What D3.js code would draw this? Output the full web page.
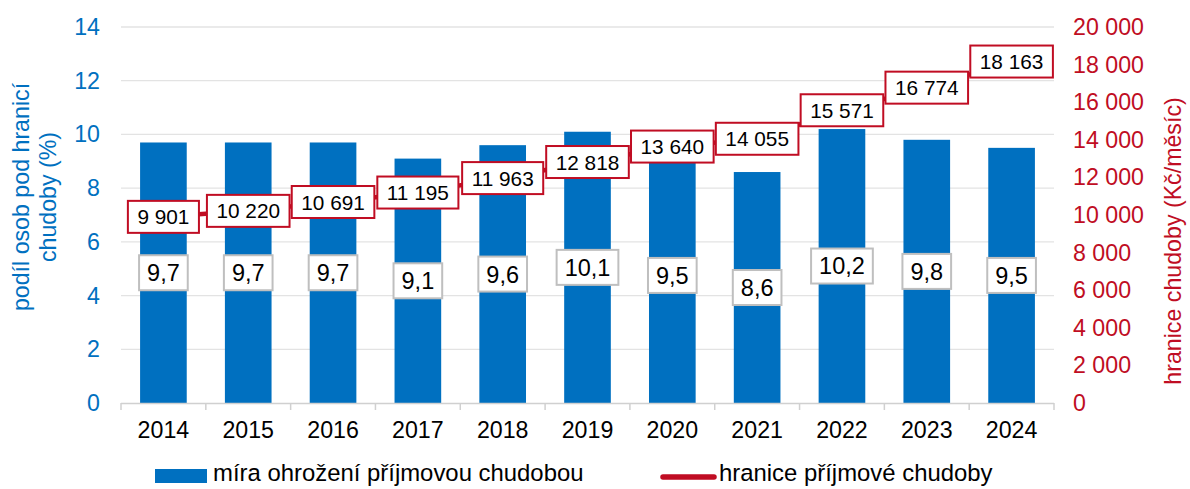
<!DOCTYPE html>
<html>
<head>
<meta charset="utf-8">
<script src="https://cdn.jsdelivr.net/npm/d3@7"></script>
<style>
body{margin:0;background:#fff;}
text{font-family:"Liberation Sans",Arial,sans-serif;}
</style>
</head>
<body>
<div id="chart"></div>
<script>
var years=["2014","2015","2016","2017","2018","2019","2020","2021","2022","2023","2024"];
var rate=[9.7,9.7,9.7,9.1,9.6,10.1,9.5,8.6,10.2,9.8,9.5];
var threshold=[9901,10220,10691,11195,11963,12818,13640,14055,15571,16774,18163];
var leftTicks=[0,2,4,6,8,10,12,14];
var rightTicks=[0,2000,4000,6000,8000,10000,12000,14000,16000,18000,20000];

var width=1190, height=489;
var blue="#0070c0", red="#c00d23";
var axisFont=23.2;

var svg=d3.select("#chart").append("svg")
  .attr("width",width).attr("height",height);

var x=d3.scaleBand().domain(years).range([121,1054]).paddingInner(0.45).paddingOuter(0.225);
var y=d3.scaleLinear().domain([0,14]).range([403,27]);
var y2=d3.scaleLinear().domain([0,20000]).range([403,27]);

function fmt(v){ return d3.format(",")(v).replace(/,/g," "); }

// grid
svg.append("g").selectAll("line").data(leftTicks.slice(1)).enter().append("line")
  .attr("x1",121).attr("x2",1054)
  .attr("y1",function(d){return y(d);}).attr("y2",function(d){return y(d);})
  .attr("stroke","#e3e3e3").attr("stroke-width",1.3);

// bars
svg.append("g").selectAll("rect").data(rate).enter().append("rect")
  .attr("x",function(d,i){return x(years[i]);})
  .attr("y",function(d){return y(d);})
  .attr("width",x.bandwidth())
  .attr("height",function(d){return y(0)-y(d);})
  .attr("fill",blue);

// x axis
var xAxis=d3.axisBottom(x).tickSize(0).tickPadding(19);
var gx=svg.append("g").attr("transform","translate(0,403)").call(xAxis);
gx.select(".domain").remove();
gx.selectAll("text").attr("font-size",axisFont).attr("fill","#000").attr("font-family","Liberation Sans, Arial");
svg.append("line").attr("x1",121).attr("x2",1054).attr("y1",403.5).attr("y2",403.5)
  .attr("stroke","#d0d0d0").attr("stroke-width",1.5);
var bounds=years.map(function(d){return x(d)-x.step()*x.paddingInner()/2;});
bounds.push(1054);
svg.append("g").selectAll("line").data(bounds).enter().append("line")
  .attr("x1",function(d){return d;}).attr("x2",function(d){return d;})
  .attr("y1",403).attr("y2",410).attr("stroke","#d0d0d0").attr("stroke-width",1.5);

// left axis
var yAxis=d3.axisLeft(y).tickValues(leftTicks).tickSize(0).tickPadding(21);
var gy=svg.append("g").attr("transform","translate(121,0)").call(yAxis);
gy.select(".domain").remove();
gy.selectAll("text").attr("font-size",axisFont).attr("fill",blue).attr("font-family","Liberation Sans, Arial");

// right axis
var yAxis2=d3.axisRight(y2).tickValues(rightTicks).tickSize(0).tickPadding(19).tickFormat(fmt);
var gy2=svg.append("g").attr("transform","translate(1054,0)").call(yAxis2);
gy2.select(".domain").remove();
gy2.selectAll("text").attr("font-size",axisFont).attr("fill",red).attr("font-family","Liberation Sans, Arial");

// axis titles
var lt=svg.append("text").attr("transform","translate(29,197) rotate(-90)")
  .attr("text-anchor","middle").attr("font-size",axisFont).attr("fill",blue);
lt.append("tspan").attr("x",0).attr("dy",0).text("podíl osob pod hranicí");
lt.append("tspan").attr("x",0).attr("dy",27).text("chudoby (%)");
svg.append("text").attr("transform","translate(1181,241) rotate(-90)")
  .attr("text-anchor","middle").attr("font-size",axisFont).attr("fill",red)
  .text("hranice chudoby (Kč/měsíc)");

// line
var line=d3.line()
  .x(function(d,i){return x(years[i])+x.bandwidth()/2;})
  .y(function(d){return y2(d);});
svg.append("path").datum(threshold).attr("d",line)
  .attr("fill","none").attr("stroke",red).attr("stroke-width",4.5);

// bar labels
var bl=svg.append("g").selectAll("g").data(rate).enter().append("g")
  .attr("transform",function(d,i){return "translate("+(x(years[i])+x.bandwidth()/2)+","+((y(d)+y(0))/2)+")";});
bl.append("text").attr("text-anchor","middle").attr("dy","0.36em").attr("font-size",23.5)
  .text(function(d){return d3.format(".1f")(d).replace(".",",");});
bl.each(function(){
  var g=d3.select(this), b=g.select("text").node().getBBox();
  g.insert("rect","text").attr("x",b.x-8).attr("y",-17.5).attr("width",b.width+16).attr("height",35)
    .attr("fill","#fff").attr("stroke","#bfbfbf").attr("stroke-width",2);
});

// line labels
var ll=svg.append("g").selectAll("g").data(threshold).enter().append("g")
  .attr("transform",function(d,i){return "translate("+(x(years[i])+x.bandwidth()/2)+","+y2(d)+")";});
ll.append("text").attr("text-anchor","middle").attr("dy","0.36em").attr("font-size",20.8)
  .text(fmt);
ll.each(function(){
  var g=d3.select(this), b=g.select("text").node().getBBox();
  g.insert("rect","text").attr("x",b.x-9.5).attr("y",-16).attr("width",b.width+19).attr("height",32)
    .attr("fill","#fff").attr("stroke",red).attr("stroke-width",2);
});

// legend
svg.append("rect").attr("x",155).attr("y",469).attr("width",52).attr("height",14).attr("fill",blue);
svg.append("text").attr("x",213).attr("y",481).attr("font-size",23.9).text("míra ohrožení příjmovou chudobou");
svg.append("line").attr("x1",663).attr("x2",714).attr("y1",477).attr("y2",477)
  .attr("stroke",red).attr("stroke-width",5.5).attr("stroke-linecap","round");
svg.append("text").attr("x",719).attr("y",481).attr("font-size",23.9).text("hranice příjmové chudoby");
</script>
</body>
</html>
